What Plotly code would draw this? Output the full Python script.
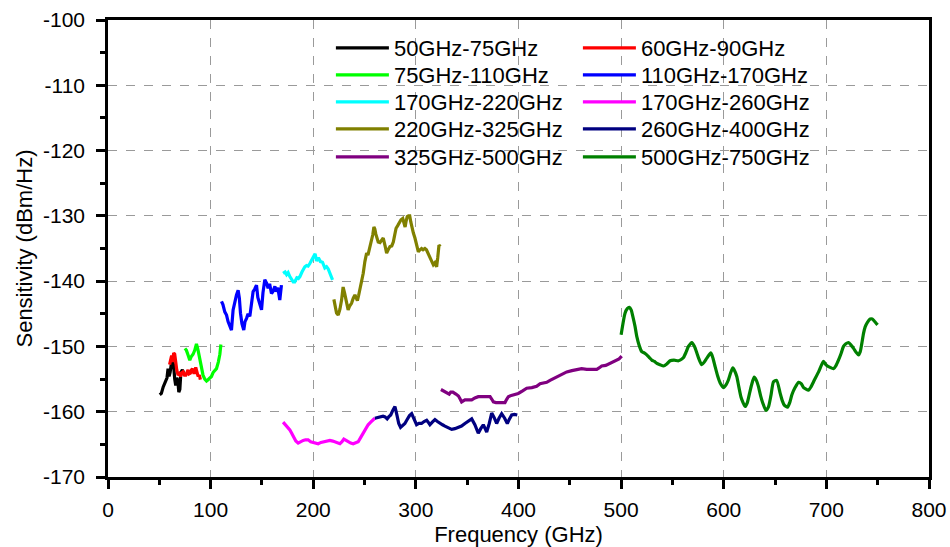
import plotly.graph_objects as go

# ---------------- data ----------------
labels = ["50GHz-75GHz", "60GHz-90GHz", "75GHz-110GHz", "110GHz-170GHz",
          "170GHz-220GHz", "170GHz-260GHz", "220GHz-325GHz", "260GHz-400GHz",
          "325GHz-500GHz", "500GHz-750GHz"]
colors = ["#000000", "#FF0000", "#00FF00", "#0000FF", "#00FFFF",
          "#FF00FF", "#808000", "#000080", "#800080", "#008000"]

b1_x = [50.4, 52, 53.8, 55.3, 56.5, 57.5, 58.5, 59.5, 60.5, 61.8, 63, 64, 65, 66, 67, 68, 69, 70, 71, 72.5, 74, 75]
b1_y = [-157.4, -157.2, -156.2, -155.6, -155.2, -154.8, -153.4, -154.6, -154.0, -152.6, -152.2, -153.0,
        -155.0, -156.0, -154.8, -155.2, -157.0, -156.6, -154.0, -153.6, -154.2, -154.0]

b2_x = [60, 61, 62, 63, 64, 65, 66, 67, 68.3, 69.5, 70.6, 72, 73.1, 74.5, 75.8, 77, 78, 79, 80.3, 81.3,
        82.3, 83.5, 84.5, 85.5, 86.5, 87.8, 89, 90]
b2_y = [-152.8, -151.8, -151.4, -152.4, -151.0, -151.2, -152.6, -153.6, -154.4, -154.2, -154.6, -154.0,
        -153.9, -154.4, -154.4, -153.8, -153.6, -154.2, -154.1, -153.6, -153.4, -154.0, -154.0, -153.2,
        -153.8, -154.6, -154.4, -155.1]

b3_x = [75, 76.4, 78, 79.7, 81, 82.9, 84.5, 86.2, 87.8, 89.4, 91, 92.6, 94.3, 96, 97.5, 99.2, 100.8,
        102.4, 104, 105.7, 107.5, 109, 110]
b3_y = [-150.3, -150.6, -151.3, -152.1, -151.6, -151.2, -150.6, -149.6, -150.6, -152.0, -153.4, -154.4,
        -155.0, -155.3, -155.1, -154.9, -154.6, -154.0, -153.7, -153.4, -152.4, -151.2, -149.7]

b4_x = [110.6, 112, 113.8, 115.5, 117, 118.5, 120.3, 121.9, 123.5, 125.2, 126.8, 128, 129.1, 130.5,
        132.3, 133.5, 135, 136.5, 138.2, 139.8, 141.4, 143, 144.7, 146, 147.5, 149.6, 151, 152.8, 154.5,
        156, 157.5, 159.3, 161, 162.6, 164, 165.5, 167.4, 169]
b4_y = [-143.1, -143.6, -144.7, -145.2, -146.2, -146.8, -147.5, -144.4, -143.0, -142.1, -141.4, -142.6,
        -144.9, -146.5, -147.5, -146.2, -145.7, -145.0, -145.4, -143.5, -141.6, -141.2, -140.6, -142.5,
        -143.4, -144.4, -141.8, -139.8, -140.3, -141.1, -140.4, -141.9, -141.5, -140.8, -141.6, -141.0,
        -142.9, -140.6]

b5_x = [170.6, 172.5, 174, 175.5, 177.2, 179, 180.5, 182, 184, 185.5, 187, 189, 190.5, 191.8, 193.5,
        195, 196.7, 198.5, 200, 201.8, 203.2, 205, 207, 209, 211.3, 213, 214.5, 216.2, 217.5, 218.8]
b5_y = [-138.8, -138.6, -139.0, -138.7, -139.3, -139.8, -140.1, -140.1, -139.5, -139.6, -139.3, -138.6,
        -138.0, -137.8, -137.6, -137.7, -137.3, -136.8, -136.5, -135.8, -136.9, -136.4, -137.0, -137.1,
        -138.0, -137.8, -138.1, -138.8, -139.2, -139.8]

b6_x = [170.6, 174, 177.2, 179, 181, 183, 185.3, 187.5, 190.2, 192.5, 195, 197.5, 200, 202.5, 204.8,
        207.5, 210, 213, 216.2, 219, 221.5, 224, 226, 228, 229.8, 232, 234.5, 236.5, 238.9, 241.5, 243.8,
        246, 248.7, 251, 253.5, 256, 258.4, 260]
b6_y = [-161.6, -162.2, -162.8, -163.3, -163.8, -164.5, -164.8, -164.6, -164.4, -164.3, -164.3, -164.6,
        -164.7, -164.8, -164.9, -164.7, -164.6, -164.5, -164.4, -164.5, -164.6, -164.8, -164.9, -164.6,
        -164.2, -164.4, -164.7, -164.8, -164.9, -164.8, -164.6, -164.0, -163.3, -162.7, -162.0, -161.6,
        -161.2, -161.0]

b7_x = [220.1, 221.5, 222.7, 224.3, 226, 227.6, 229.1, 230.5, 231.8, 233, 234, 235.5, 237.3, 239, 240.6,
        242, 243, 244.2, 245.4, 247, 248.7, 250.3, 252, 253.3, 254.6, 255.8, 256.9, 258, 259.1, 260, 261,
        262.2, 263.3, 265, 266.5, 268.2, 270, 271.5, 273, 274.8, 276.5, 278, 279.3, 280.7, 282.3, 283.9,
        285.5, 287.2, 288.3, 289.5, 290.5, 291.6, 292.8, 294, 295, 295.9, 297.5, 299.1, 300.8, 302.4, 304,
        305.5, 307, 308.8, 310.3, 312, 313.7, 315.3, 317, 318.5, 320.2, 321.3, 322.5, 324]
b7_y = [-142.8, -144.0, -144.9, -145.2, -144.3, -142.9, -140.9, -141.8, -142.9, -143.6, -144.4, -143.8,
        -143.4, -142.6, -142.1, -142.6, -143.0, -142.2, -141.4, -140.2, -138.8, -137.0, -135.7, -136.0,
        -135.2, -134.6, -133.7, -132.9, -131.7, -132.0, -132.8, -133.6, -134.0, -134.1, -133.8, -133.4,
        -134.6, -135.7, -135.2, -134.7, -134.6, -134.0, -133.0, -131.9, -131.5, -130.9, -130.6, -130.4,
        -130.9, -131.7, -130.8, -130.1, -130.0, -130.0, -130.9, -131.7, -132.6, -133.4, -134.4, -135.5,
        -135.2, -135.0, -135.2, -135.0, -135.2, -135.8, -136.5, -137.2, -137.5, -137.2, -137.8, -136.4,
        -134.5, -134.7]

b8_x = [260, 263, 265.5, 268, 270, 272, 273.5, 275.5, 277.5, 279.6, 281.5, 283.3, 285.1, 287.2, 289.3,
        291.5, 293.8, 295.9, 298.3, 300.7, 303, 305.5, 308, 310.5, 312, 313.7, 316, 318.6, 321, 323.5,
        326, 328.3, 331.5, 334.9, 338, 341.3, 344.5, 347.8, 351, 354.4, 357.5, 360.8, 363.2, 365.7, 367.5,
        369, 371.5, 373.9, 376.3, 378.7, 381, 383.6, 386.5, 389.1, 391.2, 393.4, 396, 398.8]
b8_y = [-161.0, -160.9, -160.8, -160.7, -160.8, -161.1, -160.8, -160.5, -159.8, -159.2, -160.5, -161.8,
        -162.4, -162.1, -161.8, -161.2, -160.6, -160.3, -161.2, -162.0, -161.8, -161.8, -161.5, -161.3,
        -161.6, -162.0, -161.6, -161.2, -161.5, -161.8, -162.0, -162.2, -162.4, -162.7, -162.6, -162.4,
        -162.2, -161.8, -161.4, -161.1, -162.0, -163.3, -162.6, -162.0, -162.6, -163.1, -161.8, -160.2,
        -160.9, -161.8, -161.0, -160.3, -161.0, -161.8, -161.1, -160.5, -160.4, -160.5]

b9_x = [324.4, 328.3, 330.5, 332.5, 334, 336, 339, 341.5, 343, 344.6, 347.8, 351, 354.4, 357.5, 360.8,
        366, 372.3, 374, 375.5, 378, 380.3, 383.5, 386.8, 388.5, 390.1, 393, 396, 399.8, 404, 408, 413,
        417.7, 421, 424.2, 427.5, 430.7, 434.5, 438.8, 443, 447, 452, 456.8, 461.5, 466.5, 471.5, 476.3,
        478.5, 481.1, 485, 489.2, 492.5, 495.7, 498, 500.6]
b9_y = [-156.6, -156.9, -157.1, -157.3, -157.0, -157.0, -157.3, -157.6, -158.0, -158.5, -158.2, -158.2,
        -158.2, -157.9, -157.7, -157.7, -157.7, -158.1, -158.5, -158.6, -158.6, -158.7, -158.6, -158.1,
        -157.7, -157.5, -157.4, -157.2, -156.8, -156.4, -156.3, -156.1, -155.7, -155.6, -155.5, -155.2,
        -154.9, -154.5, -154.2, -153.9, -153.7, -153.5, -153.4, -153.5, -153.5, -153.5, -153.3, -153.0,
        -152.9, -152.6, -152.4, -152.1, -151.9, -151.5]

b10_x = [500, 503.8, 506, 508, 509.8, 511.4, 513.5, 515.3, 517.5, 520.1, 522.5, 525, 527.5, 529.9, 532.5,
         534.8, 538, 541.2, 544.5, 547.7, 551.5, 555.9, 558.5, 560.8, 563.5, 565.6, 568.9, 571.5, 573.8,
         576, 578.6, 581, 583.5, 587.4, 589.5, 591.6, 594, 596.5, 599.7, 602.5, 604.6, 606.8, 608.9, 610.8,
         612.7, 614.7, 616.7, 618.8, 620.9, 623, 625.1, 627.3, 629.6, 631.8, 633.9, 636, 638.1, 641.1,
         643.5, 646, 648.5, 651.5, 655, 657, 659, 662.2, 664.5, 666.4, 669.5, 672.9, 675.5, 677.8, 682.6,
         685, 687.5, 692.4, 697.2, 699.5, 702.1, 707, 709.5, 711.8, 714.5, 716.7, 719, 721.6, 724, 726.5,
         729, 731.3, 733, 734.6, 736.2, 737.8, 740, 742.7, 744.8, 746.6, 748.3, 749.9]
b10_y = [-148.2, -144.9, -144.2, -144.0, -144.4, -145.4, -146.9, -148.5, -149.8, -150.8, -151.0, -151.3,
         -151.7, -152.1, -152.3, -152.6, -152.8, -153.0, -152.7, -152.2, -152.1, -152.2, -152.0, -151.7,
         -150.8, -150.0, -149.4, -150.0, -151.0, -152.0, -152.8, -152.4, -151.8, -151.0, -151.8, -153.1,
         -154.5, -155.6, -156.3, -155.8, -155.1, -154.0, -153.3, -153.8, -154.6, -156.2, -157.7, -158.6,
         -159.2, -158.6, -157.2, -155.8, -154.7, -155.2, -156.2, -157.6, -158.7, -159.8, -159.3, -157.5,
         -155.4, -155.2, -157.2, -158.3, -159.0, -159.3, -158.5, -157.4, -156.3, -155.5, -155.7, -156.3,
         -156.7, -156.2, -155.4, -153.9, -152.3, -152.8, -153.1, -153.4, -152.9, -152.1, -151.0, -150.0,
         -149.6, -149.4, -149.8, -150.3, -150.9, -151.3, -150.8, -149.5, -148.0, -147.0, -146.3, -145.8,
         -145.8, -146.1, -146.4, -146.7]

series_x = [b1_x, b2_x, b3_x, b4_x, b5_x, b6_x, b7_x, b8_x, b9_x, b10_x]
series_y = [b1_y, b2_y, b3_y, b4_y, b5_y, b6_y, b7_y, b8_y, b9_y, b10_y]

x_ticks = [0, 100, 200, 300, 400, 500, 600, 700, 800]
y_ticks = [-100, -110, -120, -130, -140, -150, -160, -170]

# ---------------- figure ----------------
FONT = "Liberation Sans, Arial, sans-serif"
legend_ids = ["legend", "legend2", "legend3", "legend4", "legend5"]

fig = go.Figure()
for i, (xs, ys, name, col) in enumerate(zip(series_x, series_y, labels, colors)):
    fig.add_trace(go.Scatter(
        x=xs, y=ys, name=name, mode="lines",
        legend=legend_ids[i // 2],
        line=dict(color=col, width=3.2,
                  shape="spline" if name == "500GHz-750GHz" else "linear",
                  smoothing=0.6)))

axis_common = dict(
    showline=True, linecolor="black", linewidth=2.5, mirror=True,
    ticks="outside", ticklen=9, tickwidth=2.5, tickcolor="black",
    showgrid=True, gridcolor="#9a9a9a", gridwidth=1, griddash="dash",
    zeroline=False, tickfont=dict(family=FONT, size=21, color="black"),
)

fig.update_xaxes(
    range=[0, 800], tickvals=x_ticks, ticktext=[str(v) for v in x_ticks],
    minor=dict(dtick=50, ticks="outside", ticklen=5, tickwidth=2.5, tickcolor="black", showgrid=False),
    ticklabelstandoff=3,
    title=dict(text="Frequency (GHz)", font=dict(family=FONT, size=22, color="black"), standoff=8),
    **axis_common)
fig.update_yaxes(
    range=[-170, -100], tickvals=y_ticks, ticktext=[str(v) for v in y_ticks],
    minor=dict(dtick=5, ticks="outside", ticklen=5, tickwidth=2.5, tickcolor="black", showgrid=False),
    ticklabelstandoff=7,
    title=dict(text="Sensitivity (dBm/Hz)", font=dict(family=FONT, size=22, color="black"), standoff=5),
    **axis_common)

row_y = [0.9387, 0.8796, 0.8206, 0.7615, 0.7002]
legend_layout = {}
for lid, yv in zip(legend_ids, row_y):
    legend_layout[lid] = dict(
        orientation="h", x=0.2715, y=yv, xanchor="left", yanchor="middle",
        entrywidth=179, entrywidthmode="pixels",
        bgcolor="rgba(0,0,0,0)", borderwidth=0,
        font=dict(family=FONT, size=22, color="black"),
        itemwidth=53,
    )

fig.update_layout(
    width=950, height=547,
    margin=dict(l=108, r=21, t=20, b=70, autoexpand=False),
    paper_bgcolor="white", plot_bgcolor="white",
    font=dict(family=FONT, color="black"),
    **legend_layout,
)

fig.write_html("out.html")
